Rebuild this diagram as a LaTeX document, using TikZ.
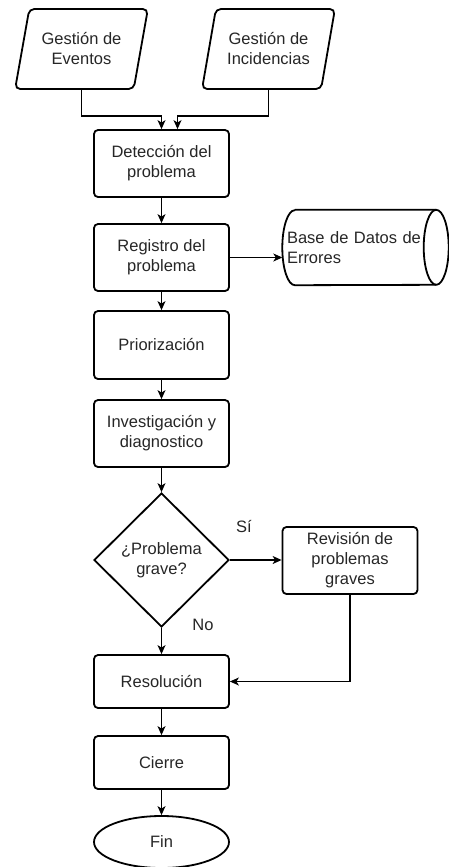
\documentclass[tikz,border=0pt]{standalone}
\usepackage{fontspec}
\setmainfont{Liberation Sans}
\usetikzlibrary{shapes.geometric,arrows.meta}
\begin{document}
\begin{tikzpicture}[x=1pt,y=-1pt,
  every node/.style={font=\fontsize{16.5}{20}\selectfont, text=black!85},
  outline/.style={draw=black, line width=1.8pt},
  box/.style={outline, rounded corners=4pt, minimum width=135pt, minimum height=67pt, align=center, inner sep=2pt},
  lowbox/.style={box, minimum height=53pt},
  para/.style={outline, trapezium, trapezium left angle=72.6, trapezium right angle=107.4,
    trapezium stretches=true, minimum width=133pt, minimum height=80pt, rounded corners=5pt,
    align=center, inner sep=2pt},
  decision/.style={outline, diamond, minimum width=135pt, minimum height=134pt, inner sep=0pt, align=center},
  terminal/.style={outline, ellipse, minimum width=135pt, minimum height=52pt, inner sep=0pt},
  arr/.style={line width=1.2pt, -{Stealth[length=9pt, width=8pt, inset=2.5pt]}},
  link/.style={line width=1.2pt}]
\useasboundingbox (0,0) rectangle (449,867);

% input sources
\node[para] (ev)  at (81.5,49)  {Gestión de\\Eventos};
\node[para] (inc) at (268.5,49) {Gestión de\\Incidencias};

% main process column
\node[box] (det) at (161.5,163.5) {Detección del\\problema};
\node[box] (reg) at (161.5,257.5) {Registro del\\problema};
\node[box, minimum height=68pt] (pri) at (161.5,345) {Priorización};
\node[box] (inv) at (161.5,433.5) {Investigación y\\diagnostico};
\node[decision] (dia) at (161.5,560) {¿Problema\\grave?};
\node[box] (rev) at (350,560.5) {Revisión de\\problemas\\graves};
\node[lowbox] (res) at (161.5,681.5) {Resolución};
\node[lowbox] (cie) at (161.5,762.5) {Cierre};
\node[terminal] (fin) at (161.5,842) {Fin};

% error database (horizontal cylinder, open end facing right)
\node[minimum width=166pt, minimum height=75pt, inner sep=0pt, text width=157pt, align=left] (db)
  at (365.5,247.5) {Base de Datos de\\Errores};
\draw[outline]
  ([xshift=12.5pt]db.north west) -- ([xshift=-12.5pt]db.north east)
  arc[start angle=-90, end angle=90, x radius=12.5, y radius=37.5]
  -- ([xshift=12.5pt]db.south west)
  arc[start angle=90, end angle=270, x radius=12.5, y radius=37.5];
\draw[outline] ([xshift=-12.5pt]db.north east)
  arc[start angle=-90, end angle=-270, x radius=12.5, y radius=37.5];

% branch labels
\node (si) at (244,526) {Sí};
\node (no) at (203,625) {No};

% connectors
\coordinate (bus) at (0,116);
\draw[arr] (ev.south) -- (ev.south |- bus) -| (det.north);
\draw[arr] (inc.south) -- (inc.south |- bus) -| ([xshift=16pt]det.north);
\draw[arr] (det) -- (reg);
\draw[arr] (reg.east) -- (reg.east -| db.west);
\draw[arr] (reg) -- (pri);
\draw[arr] (pri) -- (inv);
\draw[arr] (inv.south) -- (dia.north);
\draw[arr] (dia.east) -- (dia.east -| rev.west);
\draw[arr] (dia.south) -- (res.north);
\draw[arr] (rev.south) |- (res.east);
\draw[arr] (res) -- (cie);
\draw[arr] (cie.south) -- (fin.north);
\end{tikzpicture}
\end{document}
